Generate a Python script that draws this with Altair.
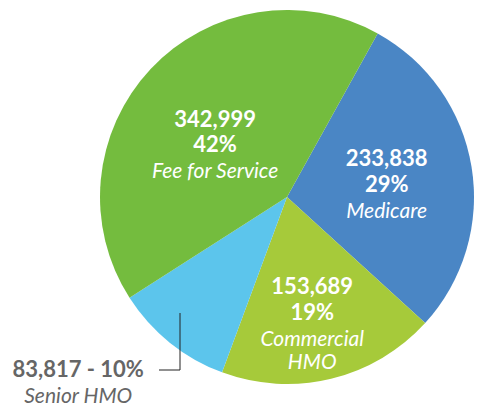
import math
import altair as alt
import pandas as pd

categories = ["Medicare", "Commercial HMO", "Senior HMO", "Fee for Service"]
values = [233838, 153689, 83817, 342999]
colors = ["#4a86c5", "#a6ca3a", "#5cc5ec", "#74bc3e"]

df = pd.DataFrame({"cat": categories, "value": values})

CX, CY, R = 287, 197, 187
start = math.radians(29)

base = (
    alt.Chart(df)
    .transform_window(idx="row_number()")
    .transform_joinaggregate(total="sum(value)")
    .transform_calculate(pct="datum.value / datum.total")
)

theta = alt.Theta("value:Q", stack=True,
                  scale=alt.Scale(range=[start, start + 2 * math.pi]))
order = alt.Order("idx:Q")

arcs = base.mark_arc(outerRadius=R, stroke=None).encode(
    theta=theta,
    order=order,
    color=alt.Color("cat:N", scale=alt.Scale(domain=categories, range=colors), legend=None),
    x=alt.value(CX),
    y=alt.value(CY),
)

FONT = "Lato"

def lbl(cat, expr, r, dx, dy, bold=True, italic=False, size=20, color="white"):
    return base.mark_text(
        radius=r, dx=dx, dy=dy, font=FONT, fontSize=size,
        fontWeight="bold" if bold else "normal",
        fontStyle="italic" if italic else "normal",
        color=color, align="center", baseline="middle",
    ).encode(
        theta=theta,
        order=order,
        x=alt.value(CX),
        y=alt.value(CY),
        text=alt.Text("t:N"),
    ).transform_calculate(t=f"datum.cat == '{cat}' ? ({expr}) : ''")

num = "format(datum.value, ',')"
pct = "format(datum.pct, '.0%')"
NS, LS = 22, 21

layers = [arcs]
# Fee for Service
layers += [
    lbl("Fee for Service", num, 89, -7, -16, size=NS),
    lbl("Fee for Service", pct, 89, -7, 9, size=NS),
    lbl("Fee for Service", "datum.cat", 89, -7, 36, bold=False, italic=True, size=LS),
]
# Medicare
layers += [
    lbl("Medicare", num, 101, 0, -22, size=NS),
    lbl("Medicare", pct, 101, 0, 4, size=NS),
    lbl("Medicare", "datum.cat", 101, 0, 31, bold=False, italic=True, size=LS),
]
# Commercial HMO
layers += [
    lbl("Commercial HMO", num, 128, -5, -34, size=NS),
    lbl("Commercial HMO", pct, 128, -5, -8, size=NS),
    lbl("Commercial HMO", "split(datum.cat, ' ')[0]", 128, -5, 19, bold=False, italic=True, size=LS),
    lbl("Commercial HMO", "split(datum.cat, ' ')[1]", 128, -5, 42, bold=False, italic=True, size=LS),
]
# Senior HMO (outside)
layers += [
    lbl("Senior HMO", f"{num} + ' - ' + {pct}", 250, -52, -22, size=22, color="#666666"),
    lbl("Senior HMO", "datum.cat", 250, -52, 5, bold=False, italic=True, size=21, color="#666666"),
]

leader_v = alt.Chart(df).mark_rule(color="#222222", strokeWidth=1).encode(
    x=alt.value(180), y=alt.value(313), y2=alt.value(370)
).transform_filter("datum.cat == 'Senior HMO'")
leader_h = alt.Chart(df).mark_rule(color="#222222", strokeWidth=1).encode(
    x=alt.value(159), x2=alt.value(180), y=alt.value(370)
).transform_filter("datum.cat == 'Senior HMO'")
layers += [leader_v, leader_h]

chart = alt.layer(*layers).properties(
    width=478, height=409,
    autosize=alt.AutoSizeParams(type="none"),
    padding=0,
).configure_view(stroke=None)

chart.save("out.html", embed_options={"renderer": "svg", "actions": False})
